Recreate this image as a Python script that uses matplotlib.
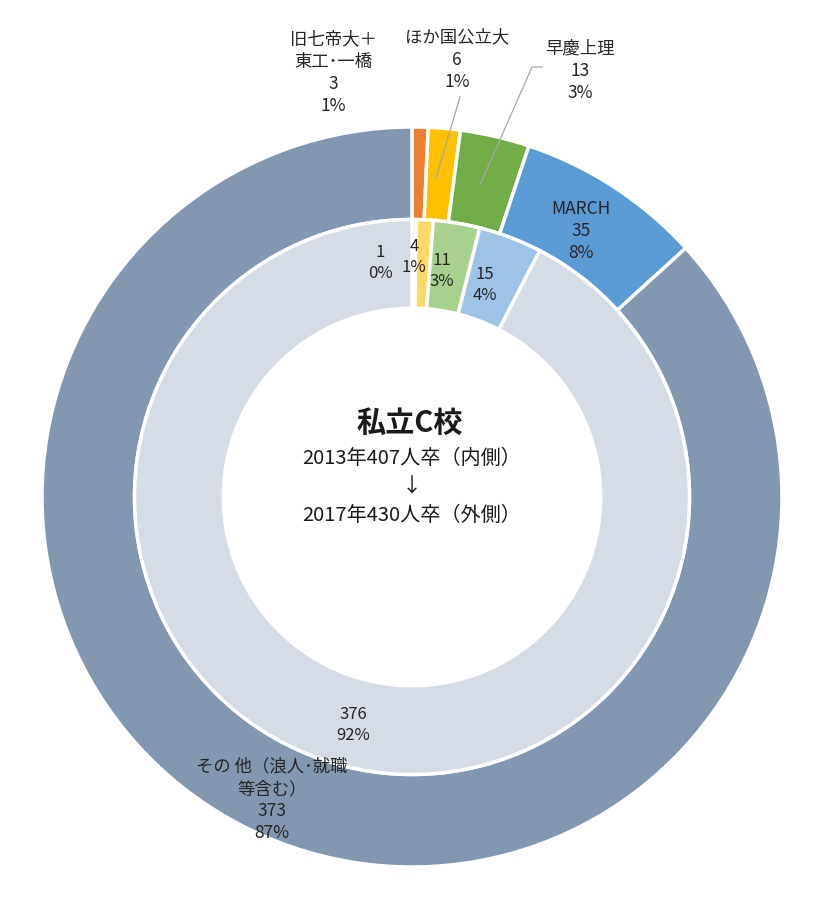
import matplotlib.pyplot as plt

plt.rcParams['font.family'] = ['Noto Sans CJK JP', 'DejaVu Sans']

# outer ring: 2017 (430 graduates)
outer_names = ["旧七帝大＋\n東工･一橋", "ほか国公立大", "早慶上理", "MARCH", "その 他（浪人･就職\n等含む）"]
outer_values = [3, 6, 13, 35, 373]
outer_colors = ["#ED7D31", "#FFC000", "#70AD47", "#5B9BD5", "#8497B0"]

# inner ring: 2013 (407 graduates)
inner_values = [1, 4, 11, 15, 376]
inner_colors = ["#F8CBAD", "#FFD966", "#A9D18E", "#9DC3E6", "#D6DCE5"]

W, H = 840, 907
CX, CY, R = 412, 497, 370


def px(x, y):
    # pixel position in the picture -> data coords
    return (x - CX) / R, (CY - y) / R


fig = plt.figure(figsize=(W / 100, H / 100), dpi=100)
ax = fig.add_axes([0, 0, 1, 1])

ax.pie(outer_values, radius=1.0, colors=outer_colors, startangle=90,
       counterclock=False, wedgeprops=dict(width=0.25, edgecolor="white", linewidth=2.5))
ax.pie(inner_values, radius=0.75, colors=inner_colors, startangle=90,
       counterclock=False, wedgeprops=dict(width=0.24, edgecolor="white", linewidth=2.5))
ax.set_aspect("auto")
ax.set_xlim(-CX / R, (W - CX) / R)
ax.set_ylim((CY - H) / R, CY / R)
ax.axis("off")

txt = "#262626"
ot = sum(outer_values)
it = sum(inner_values)

outer_pos = [(333, 73), (457, 60), (580, 71), (581, 231), (272, 800)]
for name, v, (x, y) in zip(outer_names, outer_values, outer_pos):
    ax.text(*px(x, y), f"{name}\n{v}\n{round(v / ot * 100)}%", ha="center",
            va="center", fontsize=12.5, color=txt, linespacing=1.3)

# leader lines
ax.plot(*zip(px(460, 97), px(436, 178)), color="#A6A6A6", lw=0.9)
ax.plot(*zip(px(542, 67), px(532, 67), px(480, 185)), color="#A6A6A6", lw=0.9)

inner_pos = [(380, 263), (414, 257), (442, 271), (485, 285), (353, 725)]
for v, (x, y) in zip(inner_values, inner_pos):
    ax.text(*px(x, y), f"{v}\n{round(v / it * 100)}%", ha="center",
            va="center", fontsize=12, color=txt, linespacing=1.35)

ax.text(*px(410, 423), "私立C校", ha="center", va="center", fontsize=21,
        color="#1a1a1a", fontweight="bold")
ax.text(*px(412, 458), "2013年407人卒（内側）", ha="center", va="center",
        fontsize=14.5, color="#1a1a1a")
ax.text(*px(412, 487), "↓", ha="center", va="center", fontsize=14.5, color="#1a1a1a")
ax.text(*px(412, 515), "2017年430人卒（外側）", ha="center", va="center",
        fontsize=14.5, color="#1a1a1a")

fig.savefig("out.png", dpi=100)
